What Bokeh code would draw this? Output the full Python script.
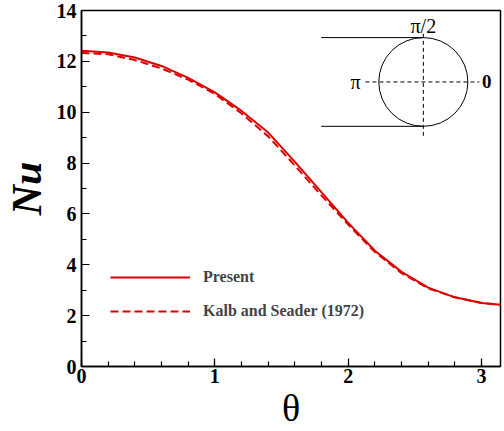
import math
from bokeh.plotting import figure
from bokeh.models import Range1d, SingleIntervalTicker, Legend, LegendItem
from bokeh.core.properties import value
from bokeh.embed import file_html
from bokeh.resources import INLINE

# ---- data ----
theta = [0.0, 0.2, 0.4, 0.6, 0.8, 1.0, 1.2, 1.4, 1.6, 1.8, 2.0, 2.2, 2.4, 2.6, 2.8, 3.0, math.pi]
nu_present = [12.42, 12.35, 12.15, 11.82, 11.35, 10.78, 10.05, 9.2, 8.05, 6.85, 5.65, 4.55, 3.72, 3.1, 2.72, 2.5, 2.43]
nu_kalb = [12.33, 12.28, 12.05, 11.72, 11.28, 10.72, 9.95, 9.05, 7.9, 6.72, 5.58, 4.5, 3.67, 3.07, 2.72, 2.5, 2.43]
x_ticks = [0, 1, 2, 3]
y_ticks = [0, 2, 4, 6, 8, 10, 12, 14]

# inset sketch (cylinder with angle labels), in data units
inset_cx, inset_cy = 2.563, 11.19
inset_rx, inset_ry = 0.334, 1.745
inset_line_x0 = 1.797
inset_hdash = (2.129, 2.983)
inset_vdash = (9.07, 13.15)

RED = "#dd0000"
SERIF = "Liberation Serif"

p = figure(width=504, height=431, output_backend="svg", toolbar_location=None,
           x_range=Range1d(0, math.pi), y_range=Range1d(0, 14),
           min_border_left=78, min_border_right=4, min_border_top=10, min_border_bottom=60)
p.grid.visible = False
p.outline_line_color = "black"
p.outline_line_width = 1.5
p.background_fill_color = "white"
p.border_fill_color = "white"

r1 = p.line(theta, nu_present, line_color=RED, line_width=2)
r2 = p.line(theta, nu_kalb, line_color=RED, line_width=2, line_dash="8 4")

# inset
p.ellipse(x=[inset_cx], y=[inset_cy], width=[2 * inset_rx], height=[2 * inset_ry],
          fill_color=None, line_color="black", line_width=1)
p.segment(x0=[inset_line_x0, inset_line_x0], y0=[inset_cy + inset_ry, inset_cy - inset_ry],
          x1=[inset_cx, inset_cx], y1=[inset_cy + inset_ry, inset_cy - inset_ry],
          line_color="black", line_width=1)
p.segment(x0=[inset_hdash[0]], y0=[inset_cy], x1=[inset_hdash[1]], y1=[inset_cy],
          line_color="black", line_width=1, line_dash="4 3")
p.segment(x0=[inset_cx], y0=[inset_vdash[0]], x1=[inset_cx], y1=[inset_vdash[1]],
          line_color="black", line_width=1, line_dash="4 3")
p.text(x=[inset_cx], y=[inset_vdash[1] + 0.25], text=["π/2"], text_align="center",
       text_baseline="middle", text_font=value(SERIF), text_font_size="20px")
p.text(x=[inset_hdash[0] - 0.075], y=[inset_cy], text=["π"], text_align="center",
       text_baseline="middle", text_font=value(SERIF), text_font_size="20px")
p.text(x=[inset_hdash[1] + 0.055], y=[inset_cy], text=["0"], text_align="center",
       text_baseline="middle", text_font=value(SERIF), text_font_size="19px",
       text_font_style="bold")

# axes
for ax in (p.xaxis[0], p.yaxis[0]):
    ax.axis_line_width = 1.5
    ax.major_tick_in = 8
    ax.major_tick_out = 0
    ax.minor_tick_in = 5
    ax.minor_tick_out = 0
    ax.major_tick_line_width = 1.2
    ax.minor_tick_line_width = 1.2
    ax.major_label_text_font = SERIF
    ax.major_label_text_font_style = "bold"
    ax.major_label_text_font_size = "20px"
    ax.major_label_text_color = "black"
    ax.axis_label_text_font = SERIF
    ax.axis_label_text_color = "black"

p.xaxis.ticker = SingleIntervalTicker(interval=1, num_minor_ticks=5)
p.yaxis.ticker = SingleIntervalTicker(interval=2, num_minor_ticks=2)
p.xaxis.major_label_standoff = 2
p.yaxis.major_label_standoff = 5

p.xaxis.axis_label = "θ"
p.xaxis.axis_label_text_font_size = "38px"
p.xaxis.axis_label_text_font_style = "normal"
p.xaxis.axis_label_standoff = 1

p.yaxis.axis_label = "Nu"
p.yaxis.axis_label_text_font_size = "42px"
p.yaxis.axis_label_text_font_style = "bold italic"
p.yaxis.axis_label_standoff = 4

legend = Legend(items=[LegendItem(label="Present", renderers=[r1]),
                       LegendItem(label="Kalb and Seader (1972)", renderers=[r2])],
                location=(29, 45), glyph_width=80, glyph_height=20, label_height=20,
                spacing=14, padding=0, margin=0, label_standoff=13,
                border_line_alpha=0, background_fill_alpha=0,
                label_text_font=SERIF, label_text_font_style="bold",
                label_text_font_size="16px")
p.add_layout(legend)

open("out.html", "w").write(file_html(p, INLINE))
